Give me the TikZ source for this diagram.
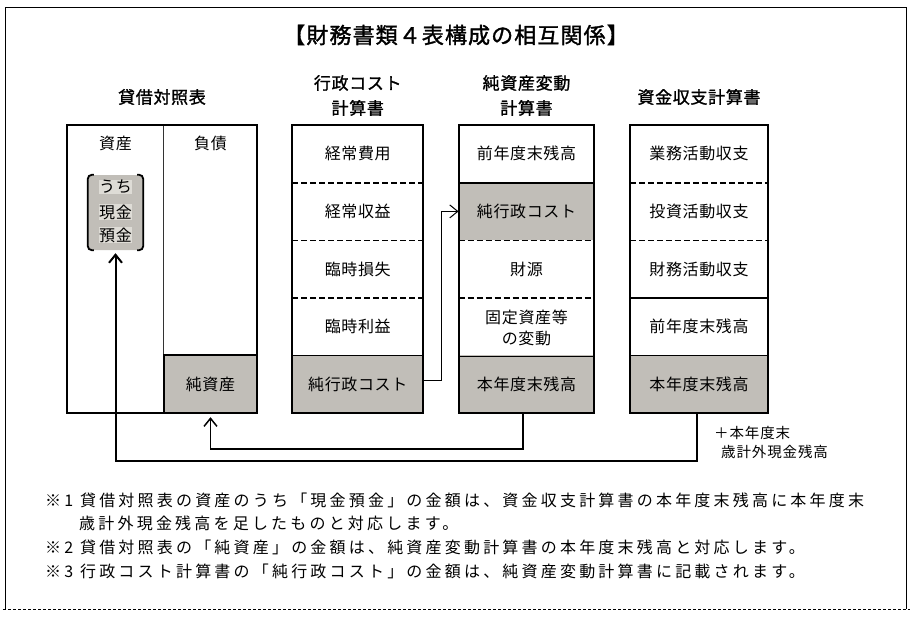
\documentclass[tikz,border=0pt]{standalone}
\usepackage{fontspec}
\setmainfont{Noto Sans CJK JP}
\newfontfamily\boxjp[LetterSpace=4]{Noto Sans CJK JP}
\newfontfamily\notejp[LetterSpace=20]{Noto Sans CJK JP}
\newfontfamily\headjp[LetterSpace=4,FakeBold=1.3]{Noto Sans CJK JP}
\newfontfamily\titlejp[LetterSpace=5,FakeBold=1.5]{Noto Sans CJK JP}
\newfontfamily\labeljp[LetterSpace=6]{Noto Sans CJK JP}
\usetikzlibrary{arrows.meta}
\definecolor{cellgray}{RGB}{193,190,184}
\definecolor{hlgray}{RGB}{222,220,214}
\begin{document}
\begin{tikzpicture}[x=1pt,y=-1pt,
  cell/.style={rectangle, inner sep=0pt, minimum height=57.6pt, font=\boxjp\fontsize{16}{21}\selectfont, align=center},
  gcell/.style={cell, fill=cellgray},
  txt/.style={inner sep=0pt, font=\boxjp\fontsize{16}{21}\selectfont},
  head/.style={inner sep=0pt, font=\headjp\fontsize{17}{25}\selectfont, align=center},
  note/.style={inner sep=0pt, anchor=west, font=\notejp\fontsize{16}{20}\selectfont},
  lab/.style={inner sep=0pt, anchor=west, font=\labeljp\fontsize{14.5}{18}\selectfont},
  outer/.style={line width=2pt},
  sep/.style={line width=1.6pt},
  dsep/.style={line width=1.6pt, dash pattern=on 6pt off 3pt},
  thinsep/.style={line width=1pt, black!80},
  bracket/.style={line width=1.8pt, rounded corners=4pt},
  arr/.style={-{Straight Barb[length=8pt,width=13pt]}}
]
\useasboundingbox (0,0) rectangle (916,618);

% frame
\draw[line width=0.9pt] (5,609) -- (5,7) -- (906.5,7) -- (906.5,609);
\draw[line width=0.8pt, dash pattern=on 3pt off 2pt] (3,609) -- (910,609);

% title
\node[inner sep=0pt, font=\titlejp\fontsize{22}{26}\selectfont] (title) at (456,35) {【財務書類４表構成の相互関係】};

% headings
\node[head] (hbs) at (162,97) {貸借対照表};
\node[head] (hk) at (357.75,95.5) {行政コスト\\計算書};
\node[head] (hn) at (526.5,95.5) {純資産変動\\計算書};
\node[head] (hs) at (699,97) {資金収支計算書};

% ---- balance sheet ----
\node[rectangle, inner sep=0pt, minimum width=190pt, minimum height=288pt] (bs) at (162,269) {};
\node[gcell, minimum width=93pt] (junshisan) at (210.5,384.2) {純資産};
\node[txt] (shisan) at (115.5,143) {資産};
\node[txt] (fusai) at (210.5,143) {負債};
\draw[thinsep] (bs.north -| junshisan.west) -- (junshisan.north west);
\draw[sep] (junshisan.south west) -- (junshisan.north west) -- (junshisan.north east);
\draw[outer] (bs.north west) rectangle (bs.south east);

\node[rectangle, rounded corners=4pt, fill=cellgray, inner sep=0pt, minimum width=55pt, minimum height=75pt] (genkin) at (115.5,212.5) {};
\node[txt, fill=hlgray, inner sep=0.6pt] (c1) at (115.5,187) {うち};
\node[txt, fill=hlgray, inner sep=0.6pt] (c2) at (115.5,212) {現金};
\node[txt, fill=hlgray, inner sep=0.6pt] (c3) at (115.5,235) {預金};
\draw[bracket] ([xshift=6pt]genkin.north west) -- (genkin.north west) -- (genkin.south west) -- ([xshift=6pt]genkin.south west);
\draw[bracket] ([xshift=-6pt]genkin.north east) -- (genkin.north east) -- (genkin.south east) -- ([xshift=-6pt]genkin.south east);

% ---- 行政コスト計算書 ----
\node[cell, minimum width=131pt] (k1) at (357.75,153.8) {経常費用};
\node[cell, minimum width=131pt] (k2) at (357.75,211.4) {経常収益};
\node[cell, minimum width=131pt] (k3) at (357.75,269.0) {臨時損失};
\node[cell, minimum width=131pt] (k4) at (357.75,326.6) {臨時利益};
\node[gcell, minimum width=131pt] (k5) at (357.75,384.2) {純行政コスト};
\draw[dsep] (k1.south west) -- (k1.south east);
\draw[dsep] (k2.south west) -- (k2.south east);
\draw[dsep] (k3.south west) -- (k3.south east);
\draw[sep] (k4.south west) -- (k4.south east);
\draw[outer] (k1.north west) rectangle (k5.south east);

% ---- 純資産変動計算書 ----
\node[cell, minimum width=135.5pt] (m1) at (526.5,153.8) {前年度末残高};
\node[gcell, minimum width=135.5pt] (m2) at (526.5,211.4) {純行政コスト};
\node[cell, minimum width=135.5pt] (m3) at (526.5,269.0) {財源};
\node[cell, minimum width=135.5pt] (m4) at (526.5,327.6) {固定資産等\\の変動};
\node[gcell, minimum width=135.5pt] (m5) at (526.5,384.2) {本年度末残高};
\draw[sep] (m1.south west) -- (m1.south east);
\draw[dsep] (m2.south west) -- (m2.south east);
\draw[dsep] (m3.south west) -- (m3.south east);
\draw[sep] (m4.south west) -- (m4.south east);
\draw[outer] (m1.north west) rectangle (m5.south east);

% ---- 資金収支計算書 ----
\node[cell, minimum width=138pt] (s1) at (699,153.8) {業務活動収支};
\node[cell, minimum width=138pt] (s2) at (699,211.4) {投資活動収支};
\node[cell, minimum width=138pt] (s3) at (699,269.0) {財務活動収支};
\node[cell, minimum width=138pt] (s4) at (699,326.6) {前年度末残高};
\node[gcell, minimum width=138pt] (s5) at (699,384.2) {本年度末残高};
\draw[dsep] (s1.south west) -- (s1.south east);
\draw[dsep] (s2.south west) -- (s2.south east);
\draw[sep] (s3.south west) -- (s3.south east);
\draw[sep] (s4.south west) -- (s4.south east);
\draw[outer] (s1.north west) rectangle (s5.south east);

% ---- connectors ----
\draw[arr, line width=1pt] ([yshift=4pt]k5.east) -- ++(18,0) |- (m2.west);
\draw[arr, line width=1.5pt] ([xshift=-3.5pt]m5.south) -- ++(0,36) -| ([yshift=-4pt]junshisan.south);
\draw[arr, line width=2pt] ([xshift=-2pt]s5.south) -- ++(0,48) -| ([yshift=-3pt]genkin.south);

\node[lab] (plus1) at (714,433) {＋本年度末};
\node[lab] (plus2) at (721,452) {歳計外現金残高};

% ---- notes ----
\node[note] (note1) at (45,500) {※1 貸借対照表の資産のうち「現金預金」の金額は、資金収支計算書の本年度末残高に本年度末};
\node[note] (note1b) at (79,523) {歳計外現金残高を足したものと対応します。};
\node[note] (note2) at (45,547) {※2 貸借対照表の「純資産」の金額は、純資産変動計算書の本年度末残高と対応します。};
\node[note] (note3) at (45,571) {※3 行政コスト計算書の「純行政コスト」の金額は、純資産変動計算書に記載されます。};
\end{tikzpicture}
\end{document}
